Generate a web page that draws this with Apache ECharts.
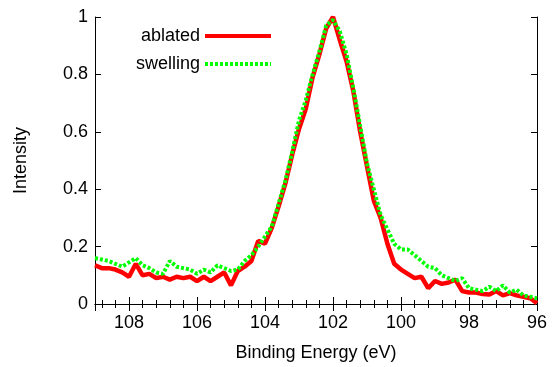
<!DOCTYPE html>
<html>
<head>
<meta charset="utf-8">
<script src="https://cdn.jsdelivr.net/npm/echarts@6/dist/echarts.min.js"></script>
<style>html,body{margin:0;padding:0;background:#fff;}#c{width:554px;height:367px;}</style>
</head>
<body>
<div id="c"></div>
<script>
const energy = [109.0,108.8,108.6,108.4,108.2,108.0,107.8,107.6,107.4,107.2,107.0,106.8,106.6,106.4,106.2,106.0,105.8,105.6,105.4,105.2,105.0,104.8,104.6,104.4,104.2,104.0,103.8,103.6,103.4,103.2,103.0,102.8,102.6,102.4,102.2,102.0,101.8,101.6,101.4,101.2,101.0,100.8,100.6,100.4,100.2,100.0,99.8,99.6,99.4,99.2,99.0,98.8,98.6,98.4,98.2,98.0,97.8,97.6,97.4,97.2,97.0,96.8,96.6,96.4,96.2,96.0];
const ablated = [0.135,0.125,0.125,0.12,0.11,0.095,0.14,0.10,0.105,0.09,0.095,0.085,0.095,0.09,0.095,0.08,0.095,0.08,0.095,0.11,0.065,0.115,0.13,0.15,0.22,0.21,0.265,0.34,0.42,0.52,0.61,0.68,0.79,0.87,0.96,1.0,0.92,0.845,0.74,0.60,0.48,0.36,0.30,0.21,0.14,0.12,0.105,0.09,0.095,0.055,0.08,0.07,0.075,0.085,0.045,0.04,0.04,0.035,0.033,0.045,0.03,0.038,0.03,0.025,0.02,0.003];
const swelling = [0.16,0.155,0.15,0.14,0.13,0.145,0.16,0.135,0.125,0.11,0.105,0.15,0.13,0.125,0.12,0.105,0.12,0.11,0.135,0.125,0.115,0.12,0.15,0.17,0.20,0.235,0.27,0.35,0.43,0.53,0.64,0.71,0.80,0.88,0.97,0.99,0.95,0.87,0.75,0.62,0.49,0.40,0.31,0.26,0.21,0.19,0.19,0.17,0.15,0.13,0.125,0.10,0.09,0.08,0.09,0.055,0.05,0.045,0.06,0.045,0.065,0.04,0.05,0.03,0.025,0.02];
const seriesNames = ['ablated','swelling'];
const xTitle = 'Binding Energy (eV)';
const yTitle = 'Intensity';

const font = 'Liberation Sans, Arial, sans-serif';
const chart = echarts.init(document.getElementById('c'), null, {renderer:'canvas'});
const pairs = (ys) => energy.map((e,i)=>[e, ys[i]]);
const legendBase = {orient:'horizontal', align:'right', itemWidth:66, itemHeight:14, padding:0,
  textStyle:{fontFamily:font, fontSize:18, color:'#000'}, lineStyle:{width:4, opacity:1},
  itemStyle:{opacity:0, borderWidth:0}, selectedMode:false};
chart.setOption({
  animation:false,
  backgroundColor:'#fff',
  grid:{left:95, right:17, top:17, bottom:61, containLabel:false},
  legend:[
    Object.assign({}, legendBase, {data:[seriesNames[0]], right:281, top:27}),
    Object.assign({}, legendBase, {data:[seriesNames[1]], right:281, top:55})
  ],
  xAxis:[
    {type:'value', min:96, max:109, interval:2, inverse:true,
     name:xTitle, nameLocation:'middle', nameGap:40,
     nameTextStyle:{fontFamily:font, fontSize:18, color:'#000'},
     axisLine:{show:true, lineStyle:{color:'#000', width:1}},
     axisTick:{show:true, inside:true, length:7, lineStyle:{color:'#000'}},
     minorTick:{show:true, splitNumber:5, length:4, lineStyle:{color:'#000'}},
     axisLabel:{fontFamily:font, fontSize:18, color:'#000', margin:10, formatter:v=> v===109?'':String(v)},
     splitLine:{show:false}},
    {type:'value', min:96, max:109, interval:2, inverse:true, position:'top',
     axisLine:{show:true, lineStyle:{color:'#000', width:1}},
     axisTick:{show:true, inside:true, length:7, lineStyle:{color:'#000'}},
     minorTick:{show:true, splitNumber:5, length:4, lineStyle:{color:'#000'}},
     axisLabel:{show:false}, splitLine:{show:false}}
  ],
  yAxis:[
    {type:'value', min:0, max:1, interval:0.2,
     name:yTitle, nameLocation:'middle', nameGap:65, nameRotate:90,
     nameTextStyle:{fontFamily:font, fontSize:18, color:'#000'},
     axisLine:{show:true, lineStyle:{color:'#000', width:1}},
     axisTick:{show:true, inside:true, length:6, lineStyle:{color:'#000'}},
     axisLabel:{fontFamily:font, fontSize:18, color:'#000', margin:7},
     splitLine:{show:false}},
    {type:'value', min:0, max:1, interval:0.2, position:'right',
     axisLine:{show:true, lineStyle:{color:'#000', width:1}},
     axisTick:{show:true, inside:true, length:6, lineStyle:{color:'#000'}},
     axisLabel:{show:false}, splitLine:{show:false}}
  ],
  series:[
    {name:seriesNames[0], type:'line', data:pairs(ablated), symbol:'none', color:'#ff0000',
     lineStyle:{color:'#ff0000', width:4.5}},
    {name:seriesNames[1], type:'line', data:pairs(swelling), symbol:'none', color:'#00ff00',
     lineStyle:{color:'#00ff00', width:4, type:[3,2], cap:'butt'}}
  ]
});
</script>
</body>
</html>
